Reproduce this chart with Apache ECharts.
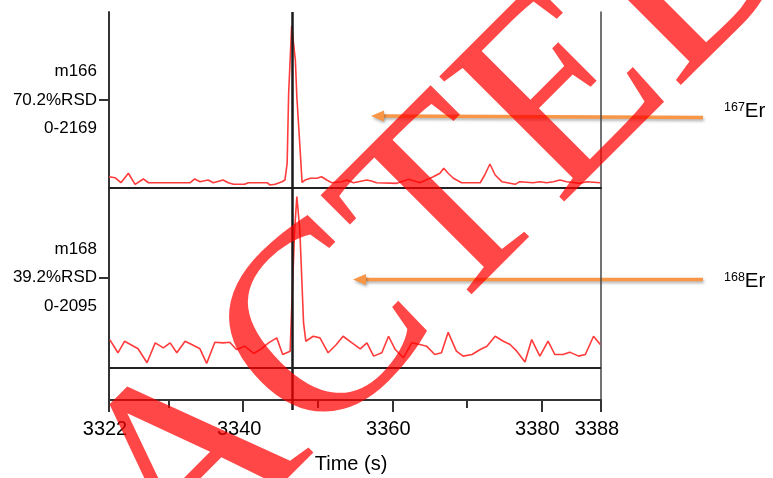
<!DOCTYPE html>
<html>
<head>
<meta charset="utf-8">
<script src="https://cdn.jsdelivr.net/npm/echarts@6/dist/echarts.min.js"></script>
<style>html,body{margin:0;padding:0;background:#fff}#c{width:773px;height:478px}</style>
</head>
<body>
<div id="c"></div>
<script>
// ---- data ----
const m166Time = [3322.0, 3322.8, 3323.6, 3324.6, 3325.5, 3326.6, 3327.3, 3332.9, 3333.5, 3334.2, 3335.3, 3336.0, 3337.3, 3338.0, 3338.7, 3340.2, 3340.7, 3343.2, 3343.6, 3344.3, 3345.2, 3345.6, 3345.9, 3346.1, 3346.3, 3346.5, 3346.7, 3347.0, 3347.2, 3347.5, 3347.9, 3348.3, 3349.0, 3349.9, 3350.5, 3351.2, 3351.9, 3353.2, 3353.9, 3354.8, 3356.6, 3357.2, 3357.9, 3360.6, 3362.2, 3363.7, 3365.5, 3366.4, 3366.9, 3367.5, 3368.2, 3369.3, 3371.8, 3372.4, 3373.1, 3373.8, 3374.7, 3376.5, 3377.1, 3378.9, 3379.8, 3380.7, 3381.6, 3382.5, 3383.4, 3385.2, 3386.1, 3387.9];
const m166Counts = [150, 137, 70, 196, 49, 120, 70, 70, 120, 84, 106, 70, 106, 70, 49, 49, 70, 70, 40, 49, 84, 106, 332, 1263, 1702, 2155, 2169, 1702, 1210, 731, 75, 106, 129, 129, 150, 106, 70, 84, 106, 70, 106, 93, 70, 62, 116, 70, 150, 196, 262, 196, 129, 70, 70, 173, 319, 173, 84, 49, 84, 70, 84, 70, 84, 106, 84, 62, 84, 70];

const m168Time = [3322.1, 3323.2, 3324.1, 3325.3, 3325.9, 3327.1, 3328.2, 3329.3, 3330.2, 3331.1, 3332.2, 3333.1, 3334.2, 3335.1, 3336.2, 3337.3, 3338.2, 3339.1, 3340.2, 3341.4, 3342.3, 3343.4, 3344.5, 3345.3, 3346.3, 3346.5, 3346.9, 3347.2, 3347.4, 3347.6, 3348.1, 3348.4, 3349.4, 3350.3, 3351.4, 3352.5, 3353.4, 3354.6, 3355.7, 3356.6, 3357.5, 3358.6, 3359.5, 3360.4, 3361.5, 3362.6, 3363.7, 3364.6, 3365.7, 3366.6, 3367.5, 3368.6, 3369.5, 3370.7, 3371.8, 3372.7, 3373.8, 3374.9, 3375.8, 3376.7, 3377.8, 3378.7, 3379.8, 3380.9, 3381.8, 3382.9, 3383.8, 3385.0, 3385.9, 3387.0, 3387.9];
const m168Counts = [341, 179, 321, 260, 228, 57, 301, 240, 301, 179, 321, 280, 228, 49, 308, 301, 308, 219, 260, 171, 219, 301, 362, 158, 199, 707, 1682, 2095, 2088, 1682, 545, 321, 382, 362, 179, 280, 382, 301, 228, 301, 138, 179, 382, 219, 118, 301, 280, 260, 158, 179, 430, 199, 138, 158, 219, 260, 382, 321, 280, 199, 65, 341, 138, 321, 158, 158, 187, 138, 158, 382, 280];

const xMin = 3322, xMax = 3388;
const majorTicks = [3322, 3340, 3360, 3380, 3388];
const minorTicks = [3330, 3350, 3370];
const cursorTime = 3346.6;
const panel166Labels = ['m166', '70.2%RSD', '0-2169'];
const panel168Labels = ['m168', '39.2%RSD', '0-2095'];
const arrowLabels = [['167', 'Er'], ['168', 'Er']];
const stampWord = ['RED', 'ACTED'];
const xTitle = 'Time (s)';

// ---- chart ----
const font = '"Liberation Sans", Arial, sans-serif';
const axisColor = '#333';
const y0Max = 2340, y1Min = -400, y1Max = 2200;
const zip = (a, b) => a.map((v, i) => [v, b[i]]);

const chart = echarts.init(document.getElementById('c'), null, {renderer: 'canvas'});

const noSplit = {show: false};
function sideAxis(grid, min, max) {
  return {gridIndex: grid, type: 'value', position: 'right', min, max,
    axisLine: {show: true, onZero: false, lineStyle: {color: '#444', width: 1.5}},
    axisTick: {show: false}, axisLabel: {show: false}, splitLine: noSplit};
}
function leftAxis(grid, min, max, labels) {
  const mid = max / 2;
  return {gridIndex: grid, type: 'value', min, max,
    axisLine: {show: true, onZero: false, lineStyle: {color: axisColor, width: 2}},
    axisTick: {show: true, customValues: [mid], length: 10, lineStyle: {color: axisColor, width: 2}},
    axisLabel: {show: true, customValues: [mid], formatter: () => labels.join('\n'),
      fontSize: 17, lineHeight: 28.5, margin: 12, color: '#000', fontFamily: font},
    splitLine: noSplit};
}

const arrowStyle = {stroke: '#F79646', lineWidth: 3.5, shadowColor: 'rgba(0,0,0,0.3)', shadowBlur: 3, shadowOffsetX: 1, shadowOffsetY: 2};
const headStyle = {fill: '#F79646', shadowColor: 'rgba(0,0,0,0.3)', shadowBlur: 3, shadowOffsetX: 1, shadowOffsetY: 2};
function arrow(tipX, tipY, endX, endY) {
  return {type: 'group', children: [
    {type: 'line', shape: {x1: endX, y1: endY, x2: tipX + 11, y2: tipY}, style: arrowStyle},
    {type: 'polygon', shape: {points: [[tipX, tipY], [tipX + 13, tipY - 5.5], [tipX + 13, tipY + 5.5]]}, style: headStyle}
  ]};
}
function isoLabel(x, y, parts) {
  return {type: 'text', x, y, style: {
    text: '{s|' + parts[0] + '}{e|' + parts[1] + '}',
    rich: {
      s: {fontSize: 12.5, fontFamily: font, fill: '#000', verticalAlign: 'top'},
      e: {fontSize: 20.5, fontFamily: font, fill: '#000'}
    },
    verticalAlign: 'middle', textVerticalAlign: 'middle', align: 'left', textAlign: 'left'
  }};
}
const stampSize = 270;
const stampStyle = {fontSize: stampSize, fontFamily: '"Liberation Serif", "Times New Roman", serif', fill: 'rgba(255,0,0,0.72)', verticalAlign: 'middle', textVerticalAlign: 'middle'};

const option = {
  animation: false,
  backgroundColor: '#fff',
  grid: [
    {left: 109, right: 172, top: 12, height: 176, outerBoundsMode: 'none', containLabel: false},
    {left: 109, right: 172, top: 188, height: 212, outerBoundsMode: 'none', containLabel: false}
  ],
  xAxis: [
    {gridIndex: 0, type: 'value', min: xMin, max: xMax,
      axisLine: {show: true, onZero: false, lineStyle: {color: '#222', width: 2}},
      axisTick: {show: false}, axisLabel: {show: false}, splitLine: noSplit},
    {gridIndex: 1, type: 'value', min: xMin, max: xMax, position: 'bottom',
      axisLine: {show: true, onZero: false, lineStyle: {color: axisColor, width: 2}},
      axisTick: {show: true, customValues: majorTicks, length: 12, lineStyle: {color: axisColor, width: 2}},
      axisLabel: {show: true, customValues: majorTicks, formatter: v => String(v), fontSize: 20, color: '#000', margin: 19, fontFamily: font, padding: [0, 8, 0, 0]},
      splitLine: noSplit,
      name: xTitle, nameLocation: 'middle', nameGap: 54,
      nameTextStyle: {fontSize: 20, color: '#000', fontFamily: font, padding: [0, 8, 0, 0]}},
    {gridIndex: 1, type: 'value', min: xMin, max: xMax, position: 'bottom',
      axisLine: {show: false, onZero: false},
      axisTick: {show: true, customValues: minorTicks, length: 8, lineStyle: {color: axisColor, width: 2}},
      axisLabel: {show: false}, splitLine: noSplit},
    {gridIndex: 1, type: 'value', min: xMin, max: xMax, position: 'bottom',
      axisLine: {show: false, onZero: false},
      axisTick: {show: true, customValues: [cursorTime], length: 10, lineStyle: {color: '#1a1a1a', width: 2.5}},
      axisLabel: {show: false}, splitLine: noSplit}
  ],
  yAxis: [
    leftAxis(0, 0, y0Max, panel166Labels),
    sideAxis(0, 0, y0Max),
    leftAxis(1, y1Min, y1Max, panel168Labels),
    sideAxis(1, y1Min, y1Max)
  ],
  series: [
    {type: 'line', name: 'm166', xAxisIndex: 0, yAxisIndex: 0, data: zip(m166Time, m166Counts),
      showSymbol: false, symbol: 'none', lineStyle: {color: '#ff3b3b', width: 1.6}, z: 2,
      markLine: {silent: true, symbol: 'none', label: {show: false},
        data: [{xAxis: cursorTime, lineStyle: {color: '#1a1a1a', width: 2.5, type: 'solid'}}]}},
    {type: 'line', name: 'm168', xAxisIndex: 1, yAxisIndex: 2, data: zip(m168Time, m168Counts),
      showSymbol: false, symbol: 'none', lineStyle: {color: '#ff3b3b', width: 1.6}, z: 2,
      markLine: {silent: true, symbol: 'none', label: {show: false},
        data: [
          {xAxis: cursorTime, lineStyle: {color: '#1a1a1a', width: 2.5, type: 'solid'}},
          {yAxis: 0, lineStyle: {color: '#222', width: 2, type: 'solid'}}
        ]}}
  ],
  graphic: [
    arrow(371, 116, 703, 117.5),
    arrow(353, 279.5, 703, 279.5),
    isoLabel(724, 111.5, arrowLabels[0]),
    isoLabel(724, 281.5, arrowLabels[1]),
    {type: 'group', x: 185, y: 597, rotation: Math.PI / 4, z: 100, silent: true, children: [
      {type: 'text', z: 100, style: Object.assign({text: stampWord[1], x: 0, y: -0.305 * stampSize, align: 'left', textAlign: 'left'}, stampStyle)},
      {type: 'text', z: 100, style: Object.assign({text: stampWord[0], x: 0, y: -0.305 * stampSize, align: 'right', textAlign: 'right'}, stampStyle)}
    ]}
  ]
};
chart.setOption(option);
</script>
</body>
</html>
